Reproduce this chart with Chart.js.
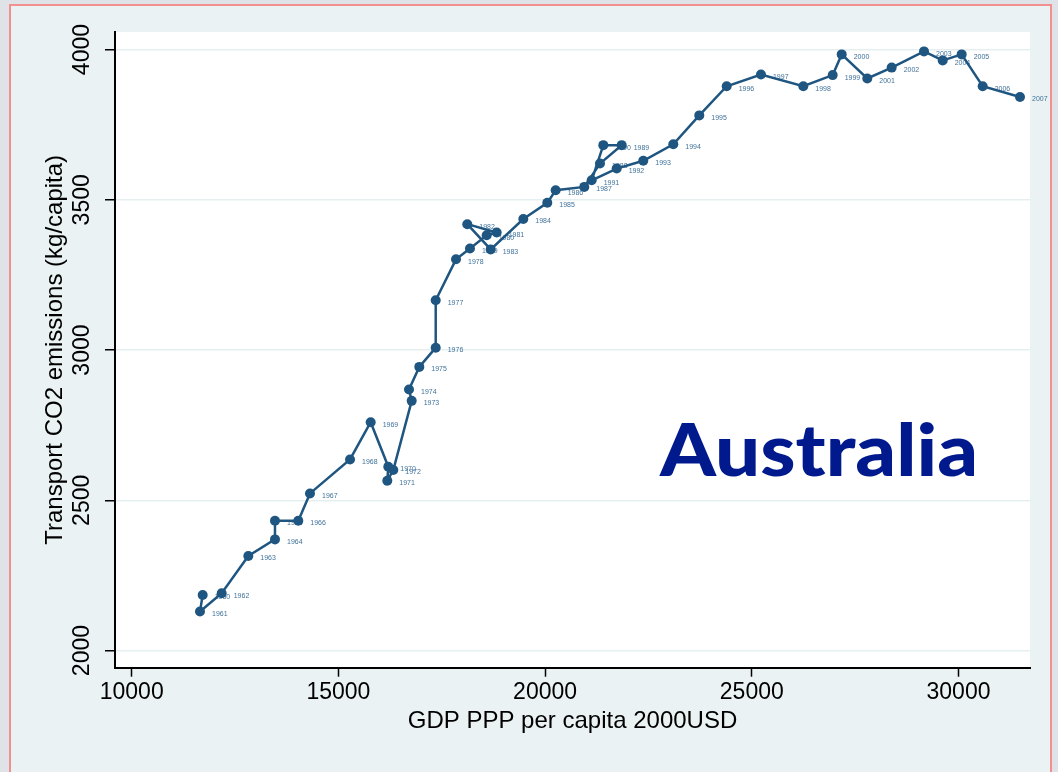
<!DOCTYPE html>
<html>
<head>
<meta charset="utf-8">
<title>Australia transport CO2 vs GDP</title>
<script src="https://cdn.jsdelivr.net/npm/chart.js@4.4.1/dist/chart.umd.min.js"></script>
<style>
  html, body { margin: 0; padding: 0; width: 1058px; height: 772px; overflow: hidden; background: #dfe2e6; }
  #frame { position: absolute; left: 9px; top: 4px; width: 1039px; height: 820px;
           border: 2px solid #f29090; background: #eaf2f3; }
  #wrap { position: absolute; left: 0; top: 0; width: 1058px; height: 772px; }
</style>
</head>
<body>
<div id="frame"></div>
<div id="wrap"><canvas id="c" width="1058" height="772"></canvas></div>
<script>
// Years of observation
const years = [
  1960, 1961, 1962, 1963, 1964, 1965, 1966, 1967, 1968, 1969,
  1970, 1971, 1972, 1973, 1974, 1975, 1976, 1977, 1978, 1979,
  1980, 1981, 1982, 1983, 1984, 1985, 1986, 1987, 1988, 1989,
  1990, 1991, 1992, 1993, 1994, 1995, 1996, 1997, 1998, 1999,
  2000, 2001, 2002, 2003, 2004, 2005, 2006, 2007
];
// GDP PPP per capita (2000 USD)
const gdp = [
  11717, 11652, 12177, 12821, 13466, 13466, 14030, 14313, 15281, 15781,
  16207, 16183, 16328, 16773, 16708, 16957, 17354, 17354, 17845, 18183,
  18587, 18829, 18118, 18684, 19473, 20053, 20256, 20948, 21328, 21853,
  21408, 21127, 21732, 22375, 23101, 23730, 24393, 25222, 26246, 26957,
  27175, 27794, 28384, 29166, 29618, 30077, 30585, 31488
];
// Transport CO2 emissions (kg per capita)
const co2 = [
  2185, 2130, 2191, 2315, 2370, 2432, 2432, 2523, 2636, 2760,
  2612, 2565, 2601, 2831, 2869, 2944, 3008, 3166, 3302, 3338,
  3382, 3391, 3419, 3335, 3436, 3490, 3532, 3543, 3621, 3682,
  3682, 3565, 3604, 3630, 3685, 3781, 3878, 3917, 3878, 3915,
  3984, 3904, 3940, 3994, 3964, 3984, 3878, 3842
];
const xTicks = [10000, 15000, 20000, 25000, 30000];
const yTicks = [2000, 2500, 3000, 3500, 4000];
const countryName = 'Australia';

const FONT = "'Liberation Sans', Arial, Helvetica, sans-serif";
const LINE_COLOR = '#1f5681';

const points = gdp.map((g, i) => ({ x: g, y: co2[i] }));

// White plotting region
const plotBackground = {
  id: 'plotBackground',
  beforeDraw(chart) {
    const { ctx, chartArea: a } = chart;
    ctx.save();
    ctx.fillStyle = '#ffffff';
    ctx.fillRect(a.left, a.top, a.right - a.left, a.bottom - a.top);
    ctx.restore();
  }
};

// Vertical y tick labels
const yTickLabels = {
  id: 'yTickLabels',
  afterDraw(chart) {
    const { ctx } = chart;
    const ys = chart.scales.y;
    ctx.save();
    ctx.fillStyle = '#000';
    ctx.font = '23px ' + FONT;
    ctx.textAlign = 'center';
    ctx.textBaseline = 'middle';
    yTicks.forEach(v => {
      const py = ys.getPixelForValue(v);
      ctx.save();
      ctx.translate(83, py);
      ctx.rotate(-Math.PI / 2);
      ctx.fillText(String(v), 0, 0);
      ctx.restore();
    });
    ctx.restore();
  }
};

// Year labels beside each marker
const yearLabels = {
  id: 'yearLabels',
  beforeDatasetsDraw(chart) {
    const { ctx } = chart;
    const meta = chart.getDatasetMeta(0);
    ctx.save();
    ctx.fillStyle = '#41729a';
    ctx.font = '7px ' + FONT;
    ctx.textAlign = 'left';
    ctx.textBaseline = 'middle';
    meta.data.forEach((el, i) => {
      ctx.fillText(String(years[i]), el.x + 12, el.y + 2.5);
    });
    ctx.restore();
  }
};

// Country caption inside the plot
const countryCaption = {
  id: 'countryCaption',
  afterDraw(chart) {
    const { ctx } = chart;
    ctx.save();
    ctx.fillStyle = '#001a8e';
    ctx.font = '900 73px Lato, ' + FONT;
    ctx.textBaseline = 'alphabetic';
    ctx.textAlign = 'left';
    const w = ctx.measureText(countryName).width;
    const target = 318;
    ctx.translate(660, 476);
    ctx.scale(target / w, 1);
    ctx.fillText(countryName, 0, 0);
    ctx.restore();
  }
};

Chart.defaults.font.family = FONT;

new Chart(document.getElementById('c'), {
  type: 'scatter',
  data: {
    datasets: [{
      data: points,
      showLine: true,
      borderColor: LINE_COLOR,
      borderWidth: 2.5,
      backgroundColor: LINE_COLOR,
      pointBackgroundColor: LINE_COLOR,
      pointBorderColor: LINE_COLOR,
      pointRadius: 5,
      pointBorderWidth: 0,
      tension: 0
    }]
  },
  options: {
    responsive: false,
    animation: false,
    devicePixelRatio: 1,
    layout: { padding: { left: 0, top: 32, right: 28, bottom: 0 } },
    plugins: {
      legend: { display: false },
      tooltip: { enabled: false }
    },
    scales: {
      x: {
        type: 'linear',
        min: 9596,
        max: 31730,
        afterBuildTicks(scale) { scale.ticks = xTicks.map(v => ({ value: v })); },
        afterFit(scale) { scale.height = 104.3; },
        grid: { drawOnChartArea: false, tickLength: 9, tickColor: '#000', tickWidth: 1.5 },
        border: { display: true, color: '#000', width: 2 },
        ticks: {
          color: '#000', font: { size: 23 }, padding: 2,
          maxRotation: 0, minRotation: 0, autoSkip: false,
          callback: v => String(v)
        },
        title: {
          display: true, text: 'GDP PPP per capita 2000USD', color: '#000',
          font: { size: 24 }, padding: { top: 0, bottom: 36 }
        }
      },
      y: {
        type: 'linear',
        min: 1943,
        max: 4058.5,
        afterBuildTicks(scale) { scale.ticks = yTicks.map(v => ({ value: v })); },
        afterFit(scale) { scale.width = 115; },
        grid: { color: '#e6eff0', lineWidth: 1.5, tickLength: 10, tickColor: '#000', tickWidth: 1.5 },
        border: { display: true, color: '#000', width: 2 },
        ticks: { display: false },
        title: {
          display: true, text: 'Transport CO2 emissions (kg/capita)', color: '#000',
          font: { size: 24 }, padding: { top: 41, bottom: 0 }
        }
      }
    }
  },
  plugins: [plotBackground, yearLabels, yTickLabels, countryCaption]
});
</script>
</body>
</html>
